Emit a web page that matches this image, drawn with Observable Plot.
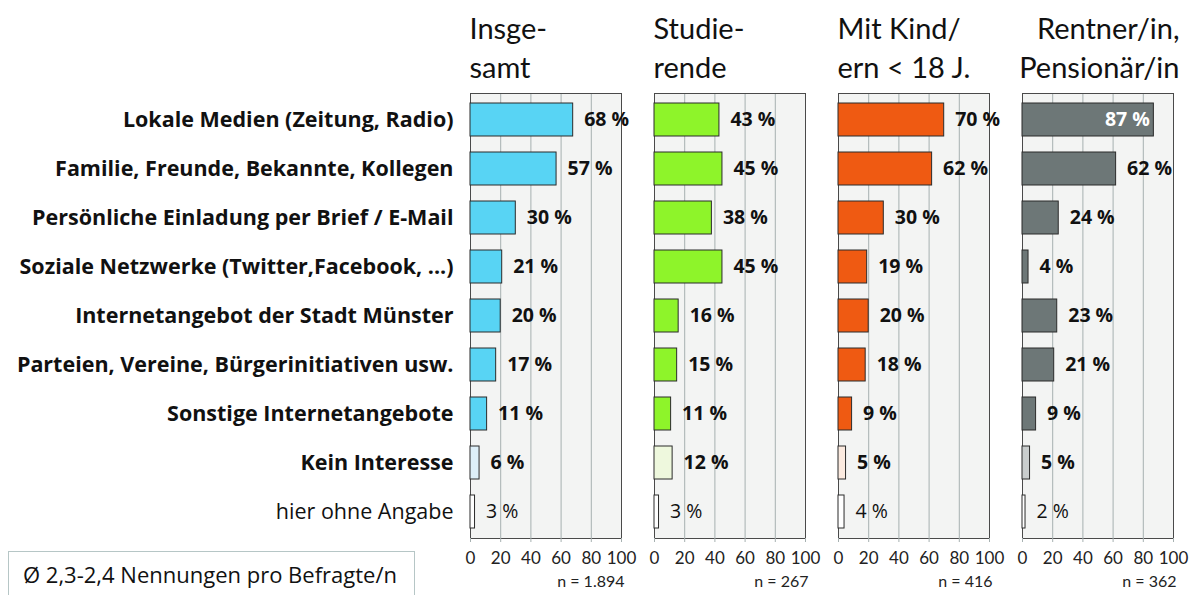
<!DOCTYPE html>
<html>
<head>
<meta charset="utf-8">
<script src="https://cdn.jsdelivr.net/npm/d3@7"></script>
<script src="https://cdn.jsdelivr.net/npm/@observablehq/plot@0.6"></script>
<style>
  html, body { margin: 0; padding: 0; background: #fff; overflow: hidden; }
  #wrap { position: relative; width: 1191px; height: 595px; font-family: Lato, "Open Sans", sans-serif; }
  #note { position: absolute; left: 8px; top: 551px; width: 407px; height: 60px; border: 1px solid #b6c6c6;
          box-sizing: border-box; font-family: "Open Sans", sans-serif; font-size: 22px; color: #111;
          padding: 7px 0 0 14px; background: #fff; white-space: nowrap; }
</style>
</head>
<body>
<div id="wrap">
  <div id="chart"></div>
  <div id="note">Ø 2,3-2,4 Nennungen pro Befragte/n</div>
</div>
<script>
// ---- data ----
const categories = [
  "Lokale Medien (Zeitung, Radio)",
  "Familie, Freunde, Bekannte, Kollegen",
  "Persönliche Einladung per Brief / E-Mail",
  "Soziale Netzwerke (Twitter,Facebook, ...)",
  "Internetangebot der Stadt Münster",
  "Parteien, Vereine, Bürgerinitiativen usw.",
  "Sonstige Internetangebote",
  "Kein Interesse",
  "hier ohne Angabe"
];
const groups = ["Insgesamt", "Studierende", "Mit Kind/ern < 18 J.", "Rentner/in, Pensionär/in"];
const headers = ["Insge-\nsamt", "Studie-\nrende", "Mit Kind/\nern < 18 J.", "Rentner/in,\nPensionär/in"];
const sampleSizes = ["n = 1.894", "n = 267", "n = 416", "n = 362"];
const valuesInsgesamt   = [68, 57, 30, 21, 20, 17, 11, 6, 3];
const valuesStudierende = [43, 45, 38, 45, 16, 15, 11, 12, 3];
const valuesMitKind     = [70, 62, 30, 19, 20, 18, 9, 5, 4];
const valuesRentner     = [87, 62, 24, 4, 23, 21, 9, 5, 2];
const mainColors  = ["#58d4f4", "#8ef42a", "#ef5a12", "#6d7777"];
const lightColors = ["#ddeff8", "#eef8dd", "#fbeadf", "#c9cdcd"];
const xTicks = [0, 20, 40, 60, 80, 100];

// ---- build table ----
const series = [valuesInsgesamt, valuesStudierende, valuesMitKind, valuesRentner];
const rows = [];
series.forEach((vals, g) => {
  vals.forEach((v, i) => {
    rows.push({
      group: groups[g], category: categories[i], value: v, idx: i,
      fill: i < 7 ? mainColors[g] : (i === 7 ? lightColors[g] : "#ffffff")
    });
  });
});
const headerRows = groups.map((g, i) => ({group: g, header: headers[i], n: sampleSizes[i]}));
const fmt = d => `${d.value} %`;
const inside = d => d.value >= 85;
const lastCat = categories[categories.length - 1];
const OS = "'Open Sans', sans-serif";

const chart = Plot.plot({
  width: 1191,
  height: 595,
  marginLeft: 468,
  marginRight: 17,
  marginTop: 93,
  marginBottom: 57,
  style: {fontFamily: "Lato, 'Open Sans', sans-serif", background: "transparent", color: "#111"},
  fx: {domain: groups, paddingInner: 0.18, paddingOuter: 0, axis: null},
  x: {domain: [0, 100]},
  y: {domain: categories, paddingInner: 0.33, paddingOuter: 0.165},
  color: {type: "identity"},
  marks: [
    Plot.frame({fill: "#f3f4f3", stroke: null}),
    Plot.gridX([20, 40, 60, 80], {stroke: "#a7b1b1", strokeOpacity: 1, strokeWidth: 1}),
    Plot.frame({stroke: "#4a4a4a", strokeWidth: 1}),
    Plot.barX(rows, {fx: "group", y: "category", x: "value", fill: "fill", stroke: "#2b2b2b", strokeWidth: 1}),
    // value labels (outside, bold)
    Plot.text(rows.filter(d => d.category !== lastCat && !inside(d)), {
      fx: "group", y: "category", x: "value", text: fmt, dx: 11, textAnchor: "start",
      fontSize: 19.5, fontWeight: "bold", fontFamily: OS, fill: "#111"
    }),
    // value labels (inside, white)
    Plot.text(rows.filter(d => inside(d)), {
      fx: "group", y: "category", x: "value", text: fmt, dx: -4, textAnchor: "end",
      fontSize: 19.5, fontWeight: "bold", fontFamily: OS, fill: "#ffffff"
    }),
    // value labels (no answer, normal)
    Plot.text(rows.filter(d => d.category === lastCat), {
      fx: "group", y: "category", x: "value", text: fmt, dx: 11, textAnchor: "start",
      fontSize: 19.5, fontWeight: "normal", fontFamily: OS, fill: "#111"
    }),
    // category labels
    Plot.axisY(categories.slice(0, -1), {tickSize: 0, tickPadding: 17, fontSize: 21.5, fontWeight: "bold", fontFamily: OS, label: null, fill: "#111"}),
    Plot.axisY([lastCat], {tickSize: 0, tickPadding: 17, fontSize: 21.5, fontWeight: "normal", fontFamily: OS, label: null, fill: "#111"}),
    // x axis
    Plot.axisX(xTicks, {tickSize: 4, tickPadding: 9, fontSize: 17, stroke: "#a7b1b1", label: null, fill: "#222"}),
    // panel headers
    Plot.text(headerRows.slice(0, 3), {
      fx: "group", text: "header", frameAnchor: "top-left", textAnchor: "start", lineAnchor: "top",
      dx: -1, dy: -82, fontSize: 29, lineHeight: 1.34, fill: "#111"
    }),
    Plot.text(headerRows.slice(3), {
      fx: "group", text: "header", frameAnchor: "top-right", textAnchor: "end", lineAnchor: "top",
      dx: 6, dy: -82, fontSize: 29, lineHeight: 1.34, fill: "#111"
    }),
    // sample sizes
    Plot.text(headerRows, {
      fx: "group", text: "n", frameAnchor: "bottom-right", textAnchor: "end",
      dx: 3, dy: 48, fontSize: 16, fill: "#222"
    })
  ]
});
document.getElementById("chart").appendChild(chart);
</script>
</body>
</html>
